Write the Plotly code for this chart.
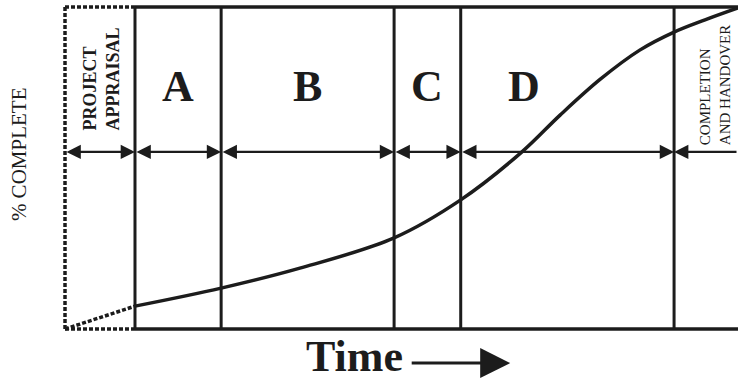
import plotly.graph_objects as go

# phase boundaries (time, % of total duration)
boundaries = [0, 10.4, 23.2, 48.9, 58.8, 90.5]
t_end = 100

# S-curve: time vs % complete
time = [0, 10.4, 23.2, 34.9, 48.9, 58.8, 67.9, 73.6, 79.5, 85.4, 90.5, 95.1, 100]
pct = [0, 7.1, 12.7, 18.9, 28.3, 40.1, 55.0, 66.5, 77.5, 86.6, 92.2, 96.0, 99.7]

phase_labels = ["A", "B", "C", "D"]
phase_label_x = [16.8, 36.0, 53.8, 68.2]

INK = "#1c1c1c"
SERIF = "Liberation Serif, Times New Roman, serif"
arrow_y = 55.0

fig = go.Figure()

# dashed part of the curve (project appraisal) and the solid rest
split = time.index(boundaries[1])
fig.add_trace(go.Scatter(x=time[:split + 1], y=pct[:split + 1], mode="lines",
                         line=dict(color=INK, width=3.5, dash="4px,2px"),
                         hoverinfo="skip", showlegend=False))
fig.add_trace(go.Scatter(x=time[split:], y=pct[split:], mode="lines",
                         line=dict(color=INK, width=3.5, shape="spline", smoothing=1.0),
                         hoverinfo="skip", showlegend=False))

# frame
dash = dict(color=INK, width=3.5, dash="4px,2px")
solid = dict(color=INK, width=3.5)
fig.add_shape(type="line", x0=0, x1=0, y0=0, y1=100, line=dash)
fig.add_shape(type="line", x0=0, x1=boundaries[1], y0=100, y1=100, line=dash)
fig.add_shape(type="line", x0=0, x1=boundaries[1], y0=0, y1=0, line=dash)
fig.add_shape(type="line", x0=boundaries[1], x1=t_end, y0=100, y1=100, line=solid)
fig.add_shape(type="line", x0=boundaries[1], x1=t_end, y0=0, y1=0, line=solid)
for b in boundaries[1:]:
    fig.add_shape(type="line", x0=b, x1=b, y0=0, y1=100, line=dict(color=INK, width=3))

# double-headed duration arrows
for a, b in zip(boundaries[:-1], boundaries[1:]):
    fig.add_annotation(x=b, y=arrow_y, ax=a, ay=arrow_y, axref="x", ayref="y",
                       text="", showarrow=True, arrowside="end+start",
                       arrowhead=2, arrowsize=1.3, arrowwidth=2.2, arrowcolor=INK)
fig.add_annotation(x=boundaries[-1], y=arrow_y, ax=t_end, ay=arrow_y, axref="x", ayref="y",
                   text="", showarrow=True, arrowhead=2, arrowsize=1.3,
                   arrowwidth=2.2, arrowcolor=INK)

# phase letters
for lab, x in zip(phase_labels, phase_label_x):
    fig.add_annotation(x=x, y=75.2, text=f"<b>{lab}</b>", showarrow=False,
                       font=dict(family=SERIF, size=44, color=INK))

fig.add_annotation(x=5.35, y=60.9, text="<b>PROJECT<br>APPRAISAL</b>", showarrow=False,
                   textangle=-90, align="left", xanchor="center", yanchor="bottom",
                   font=dict(family=SERIF, size=18, color=INK))
fig.add_annotation(x=96.6, y=56.5, text="COMPLETION<br>AND HANDOVER", showarrow=False,
                   textangle=-90, align="left", xanchor="center", yanchor="bottom",
                   font=dict(family=SERIF, size=15, color=INK))

# axis titles
fig.add_annotation(xref="paper", yref="paper", x=-0.0605, y=0.542, text="% COMPLETE",
                   showarrow=False, textangle=-90, xanchor="center", yanchor="middle",
                   font=dict(family=SERIF, size=21, color=INK))
fig.add_annotation(xref="paper", yref="paper", x=0.435, y=-0.072, text="<b>Time</b>",
                   showarrow=False, xanchor="center", yanchor="middle",
                   font=dict(family=SERIF, size=44, color=INK))
fig.add_annotation(xref="paper", yref="paper", x=0.664, y=-0.091, ax=-100, ay=0,
                   text="", showarrow=True, arrowhead=2, arrowsize=2.0,
                   arrowwidth=3, arrowcolor=INK)

fig.update_xaxes(range=[-0.743, 100], visible=False, fixedrange=True)
fig.update_yaxes(range=[-1.24, 101.24], visible=False, fixedrange=True)
fig.update_layout(width=738, height=380, margin=dict(l=60, r=0, t=3, b=47),
                  plot_bgcolor="white", paper_bgcolor="white")

fig.write_html("out.html", config={"displayModeBar": False},
               post_script="document.body.style.margin='0px';")
